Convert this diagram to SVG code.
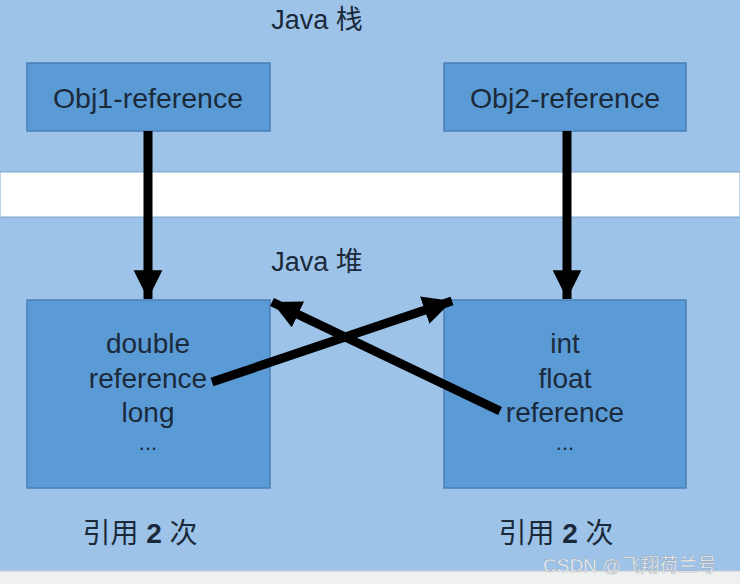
<svg xmlns="http://www.w3.org/2000/svg" width="740" height="584" viewBox="0 0 740 584">
<defs>
<style>
.t{font-family:"Liberation Sans","Noto Sans CJK SC",sans-serif;fill:#1b2a3b;text-anchor:middle}
.box{fill:#5b9bd5;stroke:#4a80b8;stroke-width:1.5}
.ln{stroke:#000;stroke-width:9;fill:none}
</style>
<marker id="ah" viewBox="0 0 10 10" refX="10" refY="5" markerWidth="3.2" markerHeight="3.2" markerUnits="strokeWidth" orient="auto">
<path d="M0,0 L10,5 L0,10 z" fill="#000"/>
</marker>
</defs>
<rect x="0" y="0" width="740" height="584" fill="#9dc3e8"/>
<rect x="0" y="172" width="740" height="45" fill="#ffffff" stroke="#7fa6cc" stroke-width="1"/>
<rect x="0" y="571" width="740" height="13" fill="#eff0f0"/>
<line x1="0" y1="571" x2="740" y2="571" stroke="#c8ccd0" stroke-width="1"/>
<text class="t" x="317" y="29" font-size="27">Java 栈</text>
<text class="t" x="317" y="271" font-size="27">Java 堆</text>
<g id="obj1">
<rect class="box" x="27" y="63" width="243" height="68"/>
<text class="t" x="148" y="108" font-size="28.5">Obj1-reference</text>
</g>
<g id="obj2">
<rect class="box" x="444" y="63" width="242" height="68"/>
<text class="t" x="565" y="108" font-size="28.5">Obj2-reference</text>
</g>
<g id="heap1">
<rect class="box" x="27" y="300" width="243" height="188"/>
<text class="t" x="148" y="353" font-size="28">double</text>
<text class="t" x="148" y="388" font-size="28">reference</text>
<text class="t" x="148" y="422" font-size="28">long</text>
<text class="t" x="148" y="450" font-size="22">...</text>
</g>
<g id="heap2">
<rect class="box" x="444" y="300" width="242" height="188"/>
<text class="t" x="565" y="353" font-size="28">int</text>
<text class="t" x="565" y="388" font-size="28">float</text>
<text class="t" x="565" y="422" font-size="28">reference</text>
<text class="t" x="565" y="450" font-size="22">...</text>
</g>
<g id="connectors">
<line class="ln" x1="148" y1="131" x2="148" y2="299" marker-end="url(#ah)"/>
<line class="ln" x1="567" y1="131" x2="567" y2="299" marker-end="url(#ah)"/>
<line class="ln" x1="212" y1="382" x2="452" y2="301" marker-end="url(#ah)"/>
<line class="ln" x1="500" y1="411" x2="272" y2="302" marker-end="url(#ah)"/>
</g>
<text class="t" x="140" y="543" font-size="28">引用 <tspan font-weight="bold">2</tspan> 次</text>
<text class="t" x="556" y="543" font-size="28">引用 <tspan font-weight="bold">2</tspan> 次</text>
<text x="543" y="572" font-family="Liberation Sans,'Noto Sans CJK SC',sans-serif" font-size="19" fill="#ffffff" fill-opacity="0.9" stroke="#9aa0a8" stroke-width="0.4">CSDN @飞翔荷兰号</text>
</svg>
